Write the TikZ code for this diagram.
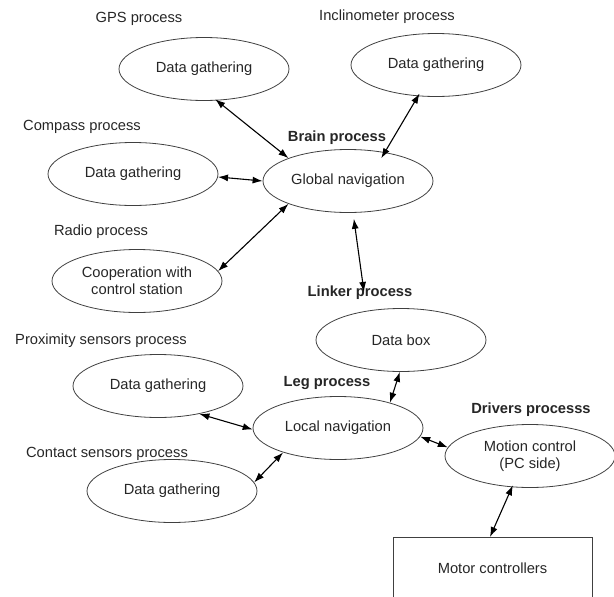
\documentclass[tikz,border=0pt]{standalone}
\usepackage{fontspec}
\setmainfont{Liberation Sans}
\usetikzlibrary{shapes.geometric,arrows.meta}
\begin{document}
\begin{tikzpicture}[x=1pt,y=-1pt,
  every node/.style={font=\fontsize{14.7}{17}\selectfont, text=black!85},
  proc/.style={draw=black!75, line width=0.8pt, ellipse, minimum width=170pt, minimum height=63pt, inner sep=0pt, align=center},
  lbl/.style={inner sep=0pt},
  blbl/.style={inner sep=0pt, font=\fontsize{14.7}{17}\selectfont\bfseries},
  arr/.style={draw=black, line width=1.1pt, {Latex[length=10pt,width=7pt]}-{Latex[length=10pt,width=7pt]}}]
\useasboundingbox (0,0) rectangle (614,597);

% labels
\node[lbl] (gpsl) at (139,19) {GPS process};
\node[lbl] (incl) at (387,17) {Inclinometer process};
\node[lbl] (compl) at (82,127) {Compass process};
\node[blbl] (brainl) at (337,138) {Brain process};
\node[lbl] (radiol) at (101,232) {Radio process};
\node[blbl] (linkl) at (360,293) {Linker process};
\node[lbl] (proxl) at (101,341) {Proximity sensors process};
\node[blbl] (legl) at (327,383) {Leg process};
\node[blbl] (drvl) at (531,410) {Drivers processs};
\node[lbl] (contl) at (107,454) {Contact sensors process};

% ellipses
\node[proc] (gps) at (204,69) {Data gathering};
\node[proc] (inc) at (436,65) {Data gathering};
\node[proc] (comp) at (133,174) {Data gathering};
\node[proc] (glob) at (348,181) {Global navigation};
\node[proc] (radio) at (137,281) {Cooperation with\\control station};
\node[proc] (dbox) at (401,340) {Data box};
\node[proc] (prox) at (158,386) {Data gathering};
\node[proc] (loc) at (338,428) {Local navigation};
\node[proc] (cont) at (172,491) {Data gathering};
\node[proc] (mot) at (530,456) {Motion control\\(PC side)};

% motor controllers box (cut by the page bottom)
\draw[draw=black!75, line width=0.8pt] (393,605) -- (393,537) -- (592,537) -- (592,605);
\node[lbl] (motor) at (492.5,568) {Motor controllers};
\coordinate (motortop) at (490,537);

% connectors
\draw[arr, shorten <=-2pt] (gps.-68) -- (glob.159);
\draw[arr, shorten <=-3pt, shorten >=-7pt] (inc.-120) -- (glob.38);
\draw[arr] (comp.-2) -- (glob.180);
\draw[arr] (radio.7.5) -- (glob.201);
\draw[arr, shorten <=6pt] (glob.-81) -- ([xshift=4pt,yshift=-6pt]linkl.north);
\draw[arr] (dbox.-92) -- (loc.26);
\draw[arr] (prox.-34) -- (loc.181);
\draw[arr] (cont.6) -- (loc.204);
\draw[arr] (loc.-6) -- (mot.174);
\draw[arr, shorten <=-2pt] (mot.-120) -- (motortop);
\end{tikzpicture}
\end{document}
